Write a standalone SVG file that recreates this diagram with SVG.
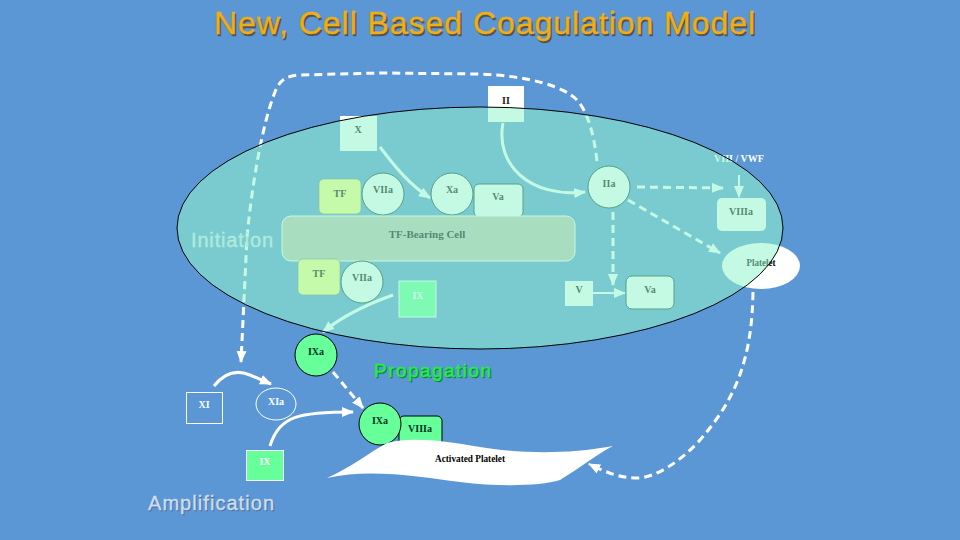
<svg xmlns="http://www.w3.org/2000/svg" width="960" height="540" viewBox="0 0 960 540">
<defs>
<marker id="a" markerUnits="userSpaceOnUse" markerWidth="12" markerHeight="10" refX="11" refY="5" orient="auto"><path d="M0,0 L12,5 L0,10 Z" fill="#fff"/></marker>
</defs>
<style>
text{font-family:"Liberation Serif","Times New Roman",serif;font-weight:bold;font-size:10px;text-anchor:middle;fill:#000}
.h{font-family:"Liberation Sans",Arial,sans-serif;font-weight:normal;text-anchor:start;stroke-width:0.4}
.w{fill:#fff}
.d{fill:#003322}
.n{fill:#fff;stroke:none}
.k{fill:#fff;stroke:#0a3a3a;stroke-width:1}
.g{fill:#66ff99;stroke:#000;stroke-width:1}
.c{fill:none;stroke:#fff;stroke-width:3;stroke-linecap:butt}
.t{stroke-width:2}
.s{stroke-dasharray:8 5}
.ti{font-size:32px;fill:#f0ae14;stroke:#f0ae14}
.ts{font-size:32px;fill:#55534a;stroke:#55534a}
.m{font-size:20px;fill:#ccddee;stroke:#ccddee}
.p{font-size:19px}
</style>
<rect width="960" height="540" fill="#5b97d5"/>
<text class="h ts" x="215.500" y="35.500" textLength="541">New, Cell Based Coagulation Model</text>
<text class="h ti" x="214" y="34" textLength="541">New, Cell Based Coagulation Model</text>
<g id="connectors">
<path class="c s" d="M597,161 C594,135 588,112 577,100 C565,87 530,76 480,74 L380,73 L300,75 C285,76 280,80 275,92 C262,125 252,185 247,237 L241,362" marker-end="url(#a)"/>
<path class="c" d="M380,147 C395,167 410,185 430,198" marker-end="url(#a)"/>
<path class="c" d="M503,123 C495,165 530,198 585,192" marker-end="url(#a)"/>
<path class="c s" d="M637,187 L723,188" marker-end="url(#a)"/>
<path class="c t" d="M739,175 L739,197" marker-end="url(#a)"/>
<path class="c s" d="M628,200 L720,253" marker-end="url(#a)"/>
<path class="c s" d="M613,212 L613,285" marker-end="url(#a)"/>
<path class="c t" d="M593,293 L625,293" marker-end="url(#a)"/>
<path class="c" d="M393,295 C365,305 340,318 323,332" marker-end="url(#a)"/>
<path class="c s" d="M333,372 L363,408" marker-end="url(#a)"/>
<path class="c" d="M214,386 C225,372 238,370 250,375 L271,384" marker-end="url(#a)"/>
<path class="c" d="M270,446 C280,415 300,412 353,412" marker-end="url(#a)"/>
<path class="c s" d="M753,292 C752,360 735,400 700,440 C680,462 655,478 637,478 C620,478 605,472 589,464" marker-end="url(#a)"/>
</g>
<g id="node-x"><rect class="n" x="340" y="116" width="37" height="35"/><text x="358" y="133">X</text></g>
<g id="node-ii"><rect class="n" x="488" y="86" width="36" height="36"/><text x="506" y="104" style="fill:#222">II</text></g>
<g id="node-tf1"><rect x="319" y="179" width="42" height="35" rx="5" fill="#ffff80" stroke="#777" stroke-width="0.6"/><text x="340" y="197">TF</text></g>
<g id="node-viia1"><circle class="k" cx="383" cy="194" r="21"/><text x="383" y="193">VIIa</text></g>
<g id="node-xa"><circle class="k" cx="452" cy="194" r="21"/><text x="452" y="193">Xa</text></g>
<g id="node-va1"><rect class="k" x="474" y="184" width="49" height="33" rx="5"/><text x="498" y="200">Va</text></g>
<g id="node-iia"><circle class="k" cx="609" cy="187" r="21"/><text x="609" y="187">IIa</text></g>
<g id="node-vwf"><text class="w" x="739" y="162">VIII / VWF</text></g>
<g id="node-viiia1"><rect class="n" x="717" y="198" width="49" height="33" rx="5"/><text x="741" y="215">VIIIa</text></g>
<g id="node-cell"><rect x="282" y="216" width="293" height="45" rx="9" fill="#c4bfb2" stroke="#fff" stroke-width="1"/><text x="427" y="238" style="font-size:11px">TF-Bearing Cell</text></g>
<g id="node-tf2"><rect x="298" y="259" width="42" height="36" rx="5" fill="#ffff80" stroke="#777" stroke-width="0.6"/><text x="319" y="277">TF</text></g>
<g id="node-viia2"><circle class="k" cx="362" cy="282" r="21"/><text x="362" y="281">VIIa</text></g>
<g id="node-ix1"><rect x="399" y="281" width="37" height="36" fill="#66ff99" stroke="#fff"/><text class="w" x="418" y="299">IX</text></g>
<g id="node-v"><rect class="n" x="565" y="281" width="28" height="25"/><text x="579" y="293">V</text></g>
<g id="node-va2"><rect class="k" x="626" y="276" width="48" height="33" rx="6"/><text x="650" y="293">Va</text></g>
<g id="node-platelet"><ellipse class="n" cx="761" cy="266" rx="39" ry="23"/><text x="761" y="266" textLength="29" lengthAdjust="spacingAndGlyphs">Platelet</text></g>
<g id="label-initiation"><text class="h m" x="191" y="247" textLength="82">Initiation</text></g>
<ellipse id="membrane" cx="480" cy="228" rx="303" ry="121" fill="#93f5cc" fill-opacity="0.55" stroke="#000" stroke-width="1"/>
<g id="node-ixa1"><circle class="g" cx="316" cy="355" r="21"/><text class="d" x="316" y="355">IXa</text></g>
<g id="node-xi"><rect x="186.500" y="392.500" width="36" height="31" fill="none" stroke="#fff"/><text class="w" x="204" y="408">XI</text></g>
<g id="node-xia"><ellipse cx="276" cy="404" rx="20" ry="16" fill="none" stroke="#fff"/><text class="w" x="276" y="405">XIa</text></g>
<g id="node-ix2"><rect x="246.500" y="450.500" width="37" height="30" fill="#66ff99" stroke="#fff"/><text class="w" x="265" y="465">IX</text></g>
<g id="node-viiia2"><rect class="g" x="399" y="416" width="43" height="30" rx="5"/><text class="d" x="420" y="432">VIIIa</text></g>
<g id="node-ixa2"><circle class="g" cx="380" cy="424" r="21"/><text class="d" x="380" y="424">IXa</text></g>
<g id="node-activated"><path d="M327,478 C350,468 370,452 387,443 C410,437 440,440 480,447 C510,452 560,456 613,446 C600,452 580,468 560,480 C540,486 500,487 460,482 C420,477 370,468 327,478 Z" fill="#fff"/><text x="470" y="462" textLength="70" lengthAdjust="spacingAndGlyphs">Activated Platelet</text></g>
<text class="h p" x="375" y="378" textLength="117" style="fill:#0a7a35;stroke:#0a7a35">Propagation</text>
<text class="h p" x="374" y="377" textLength="117" style="fill:#22ee44;stroke:#22ee44">Propagation</text>
<text class="h m" x="149" y="511" textLength="126" style="fill:#4d6d96;stroke:#4d6d96">Amplification</text>
<text class="h m" x="148" y="510" textLength="126">Amplification</text>
</svg>
